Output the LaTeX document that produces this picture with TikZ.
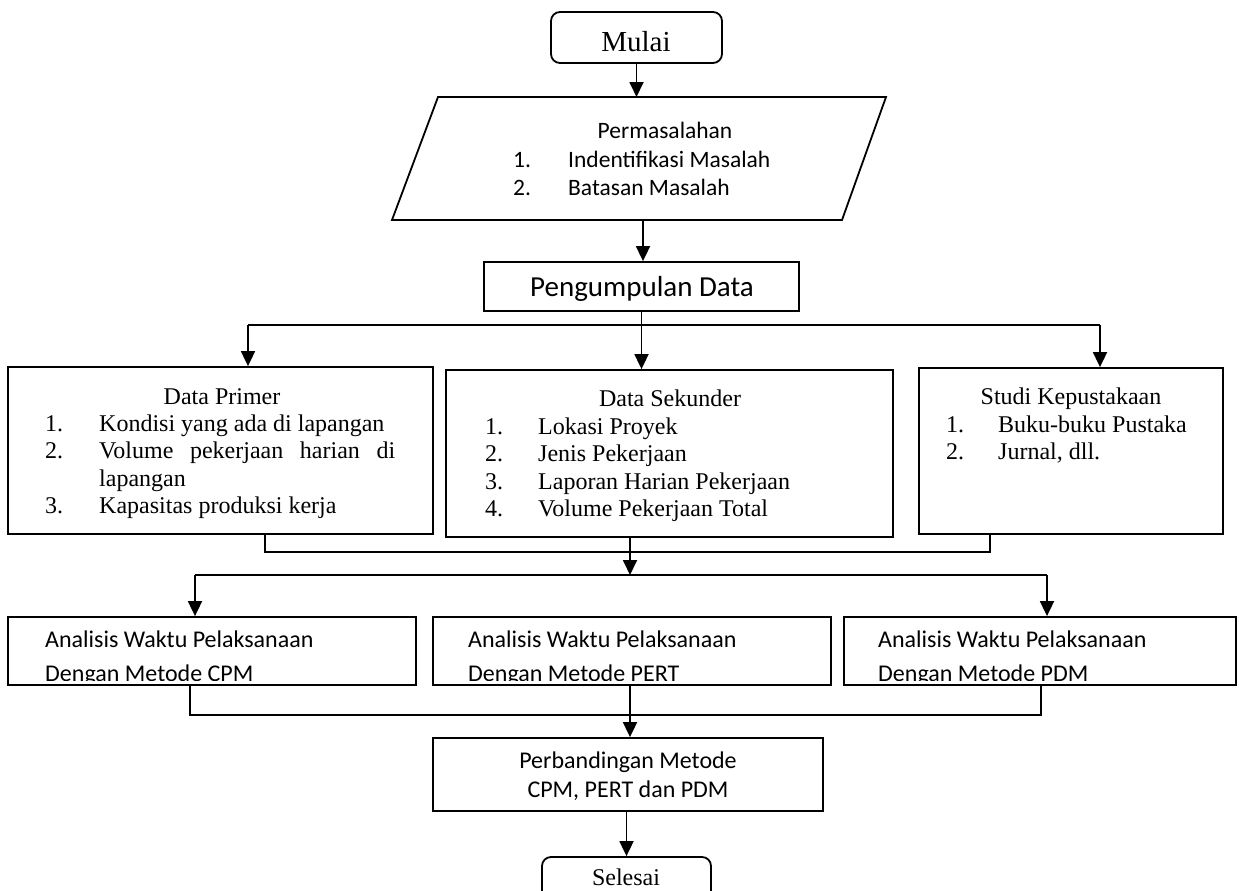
\documentclass[tikz,border=0pt]{standalone}
\usepackage{fontspec}
\setmainfont{Liberation Serif}
\newfontfamily\calib{Carlito}
\usetikzlibrary{arrows.meta}
\begin{document}
\begin{tikzpicture}[x=1pt,y=-1pt,
  box/.style={draw, line width=1.8pt, rectangle, inner sep=0pt},
  rbox/.style={box, rounded corners=9pt},
  conn/.style={line width=1.8pt},
  arr/.style={conn, -{Triangle[length=15pt,width=14pt]}},
  tnr/.style={font=\fontsize{24}{28}\selectfont, inner sep=0pt},
  cal/.style={font=\calib\fontsize{24}{28}\selectfont, inner sep=0pt},
  calp/.style={font=\calib\fontsize{23.5}{28}\selectfont, inner sep=0pt}]
\useasboundingbox (0,0) rectangle (1239,891);
\clip (0,0) rectangle (1239,891);

% ---------- shapes ----------
\node[rbox, minimum width=171pt, minimum height=51pt] (mulai) at (636.5,37.5) {};
\draw[conn, line join=miter] (438,97) -- (886,97) -- (842,220) -- (392,220) -- cycle;
\coordinate (permtop) at (637,97);
\coordinate (permbot) at (643,220);
\node[box, minimum width=315pt, minimum height=49pt] (peng) at (641.5,286.5) {};
\node[box, minimum width=425pt, minimum height=167pt] (primer) at (220.5,450.5) {};
\node[box, minimum width=447pt, minimum height=167pt] (sekunder) at (669.5,453.5) {};
\node[box, minimum width=304pt, minimum height=166pt] (studi) at (1071,451) {};
\node[box, minimum width=408pt, minimum height=68pt] (cpm) at (212,651) {};
\node[box, minimum width=398pt, minimum height=68pt] (pert) at (632,651) {};
\node[box, minimum width=392pt, minimum height=68pt] (pdm) at (1040,651) {};
\node[box, minimum width=390pt, minimum height=73pt] (perb) at (628,774.5) {};
\node[rbox, minimum width=169pt, minimum height=50pt] (selesai) at (626.5,882) {};

% ---------- texts ----------
\node[tnr, anchor=base, font=\fontsize{29}{32}\selectfont] (tmulai) at (636,52) {Mulai};

\node[calp, anchor=base] (tperm) at (665,138) {Permasalahan};
\node[calp, anchor=base west] (tpermn1) at (513,167) {1.};
\node[calp, anchor=base west] (tperm1) at (568,167) {Indentifikasi Masalah};
\node[calp, anchor=base west] (tpermn2) at (513,195) {2.};
\node[calp, anchor=base west] (tperm2) at (568,195) {Batasan Masalah};

\node[cal, anchor=base, font=\calib\fontsize{29}{32}\selectfont] (tpeng) at (642,296) {Pengumpulan Data};

\node[tnr, anchor=base] (tprimer) at (222,404) {Data Primer};
\node[tnr, anchor=base west] (tpn1) at (45,431) {1.};
\node[tnr, anchor=base west] (tp1) at (99,431) {Kondisi yang ada di lapangan};
\node[tnr, anchor=base west] (tpn2) at (45,458.5) {2.};
\node[tnr, anchor=base west] (tp2) at (99,458.5) {\makebox[296pt][s]{Volume pekerjaan harian di}};
\node[tnr, anchor=base west] (tp2b) at (99,486) {lapangan};
\node[tnr, anchor=base west] (tpn3) at (45,513.5) {3.};
\node[tnr, anchor=base west] (tp3) at (99,513.5) {Kapasitas produksi kerja};

\node[tnr, anchor=base] (tsek) at (670,406) {Data Sekunder};
\node[tnr, anchor=base west] (tsn1) at (485,434) {1.};
\node[tnr, anchor=base west] (ts1) at (538,434) {Lokasi Proyek};
\node[tnr, anchor=base west] (tsn2) at (485,461.5) {2.};
\node[tnr, anchor=base west] (ts2) at (538,461.5) {Jenis Pekerjaan};
\node[tnr, anchor=base west] (tsn3) at (485,489) {3.};
\node[tnr, anchor=base west] (ts3) at (538,489) {Laporan Harian Pekerjaan};
\node[tnr, anchor=base west] (tsn4) at (485,516.5) {4.};
\node[tnr, anchor=base west] (ts4) at (538,516.5) {Volume Pekerjaan Total};

\node[tnr, anchor=base] (tstudi) at (1071,404) {Studi Kepustakaan};
\node[tnr, anchor=base west] (tkn1) at (946,432) {1.};
\node[tnr, anchor=base west] (tk1) at (998,432) {Buku-buku Pustaka};
\node[tnr, anchor=base west] (tkn2) at (946,459) {2.};
\node[tnr, anchor=base west] (tk2) at (998,459) {Jurnal, dll.};

\begin{scope}
\clip (0,600) rectangle (1239,680.5);
\node[cal, anchor=base west] (tcpm1) at (45,647) {Analisis Waktu Pelaksanaan};
\node[cal, anchor=base west] (tcpm2) at (45,681) {Dengan Metode CPM};
\node[cal, anchor=base west] (tpert1) at (468,647) {Analisis Waktu Pelaksanaan};
\node[cal, anchor=base west] (tpert2) at (468,681) {Dengan Metode PERT};
\node[cal, anchor=base west] (tpdm1) at (878,647) {Analisis Waktu Pelaksanaan};
\node[cal, anchor=base west] (tpdm2) at (878,681) {Dengan Metode PDM};
\end{scope}

\node[cal, anchor=base] (tperb1) at (628,768) {Perbandingan Metode};
\node[cal, anchor=base] (tperb2) at (628,797) {CPM, PERT dan PDM};

\node[tnr, anchor=base] (tsel) at (626,885) {Selesai};

% ---------- connectors ----------
\draw[arr] (mulai.south) -- (mulai.south |- permtop);
\draw[arr] (permbot) -- (permbot |- peng.north);

\coordinate (hL) at (248,325);
\coordinate (hR) at (1100,325);
\draw[conn] (peng.south) -- (peng.south |- hL);
\draw[conn] (hL) -- (hR);
\draw[arr] (hL) -- (hL |- primer.north);
\draw[arr] (peng.south |- hL) -- (peng.south |- sekunder.north);
\draw[arr] (hR) -- (hR |- studi.north);

\coordinate (cL) at (265,552);
\coordinate (cR) at (990,552);
\draw[conn] (cL |- primer.south) -- (cL) -- (cR) -- (cR |- studi.south);
\coordinate (dL) at (195,575);
\coordinate (dM) at (630,575);
\coordinate (dR) at (1047,575);
\draw[arr] (dM |- sekunder.south) -- (dM);
\draw[conn] (dL) -- (dR);
\draw[arr] (dL) -- (dL |- cpm.north);
\draw[arr] (dR) -- (dR |- pdm.north);

\coordinate (eL) at (190,715);
\coordinate (eM) at (630,715);
\coordinate (eR) at (1041,715);
\draw[conn] (eL |- cpm.south) -- (eL) -- (eR) -- (eR |- pdm.south);
\draw[arr] (eM |- pert.south) -- (eM |- perb.north);
\draw[arr] (selesai.north |- perb.south) -- (selesai.north);
\end{tikzpicture}
\end{document}
